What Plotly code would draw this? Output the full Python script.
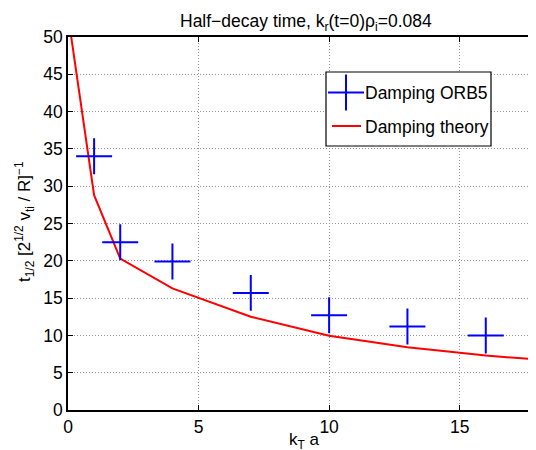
import plotly.graph_objects as go

# ORB5 damping (blue crosses)
orb5_k = [1, 2, 4, 7, 10, 13, 16]
orb5_t = [34.0, 22.5, 19.9, 15.7, 12.7, 11.2, 10.0]

# Theory (red line)
theory_k = [0, 1, 2, 4, 7, 10, 13, 16, 19]
theory_t = [53.0, 28.8, 20.3, 16.3, 12.5, 9.95, 8.4, 7.3, 6.5]

x_ticks = [0, 5, 10, 15]
y_ticks = [0, 5, 10, 15, 20, 25, 30, 35, 40, 45, 50]

FONT = "Liberation Sans, Arial, Helvetica, sans-serif"
BLUE = "#0000FF"
RED = "#FF0000"

fig = go.Figure()
fig.add_trace(go.Scatter(
    x=theory_k, y=theory_t, mode="lines",
    line=dict(color=RED, width=2), name="Damping theory", showlegend=False))
fig.add_trace(go.Scatter(
    x=orb5_k, y=orb5_t, mode="markers",
    marker=dict(symbol="cross-thin", size=25.7, line=dict(color=BLUE, width=2), color=BLUE),
    name="Damping ORB5", showlegend=False))

OFF = 8  # page body margin
W, H = 536, 450
L, T = 60, 29
R = W - 530
B = H - 402
pw, ph = W - L - R, H - T - B


def px(xs):
    return (xs - OFF - L) / pw


def py(ys):
    return (H - B - (ys - OFF)) / ph


shapes = [
    dict(type="rect", xref="paper", yref="paper", x0=px(326), x1=px(491), y0=py(146), y1=py(72),
         line=dict(color="black", width=1.2), fillcolor="white", layer="above"),
    # cross symbol
    dict(type="line", xref="paper", yref="paper", x0=px(328), x1=px(364), y0=py(92.5), y1=py(92.5),
         line=dict(color=BLUE, width=2), layer="above"),
    dict(type="line", xref="paper", yref="paper", x0=px(346), x1=px(346), y0=py(74.5), y1=py(110.5),
         line=dict(color=BLUE, width=2), layer="above"),
    # red line symbol
    dict(type="line", xref="paper", yref="paper", x0=px(332), x1=px(361), y0=py(126), y1=py(126),
         line=dict(color=RED, width=2), layer="above"),
]

annotations = [
    dict(text="Damping ORB5", xref="paper", yref="paper", x=px(363), y=py(93),
         xanchor="left", yanchor="middle", showarrow=False, font=dict(size=17.5, color="black", family=FONT)),
    dict(text="Damping theory", xref="paper", yref="paper", x=px(363), y=py(127),
         xanchor="left", yanchor="middle", showarrow=False, font=dict(size=17.5, color="black", family=FONT)),
    # axis titles
    dict(text="k<sub>T</sub> a", xref="paper", yref="paper", x=px(304), y=py(428),
         xanchor="center", yanchor="top", showarrow=False, font=dict(size=17, color="black", family=FONT)),
    dict(text="t<sub>1/2</sub> [2<sup>1/2</sup> v<sub>ti</sub> / R]<sup>\u22121</sup>",
         xref="paper", yref="paper", x=px(24), y=py(222), textangle=-90,
         xanchor="center", yanchor="middle", showarrow=False, font=dict(size=17, color="black", family=FONT)),
    # title
    dict(text="Half\u2212decay time, k<sub>r</sub>(t=0)\u03c1<sub>i</sub>=0.084",
         xref="paper", yref="paper", x=px(306), y=py(9), xanchor="center", yanchor="top",
         showarrow=False, font=dict(size=17.5, color="black", family=FONT)),
]

fig.update_layout(
    width=W, height=H,
    margin=dict(l=L, r=R, t=T, b=B, autoexpand=False),
    paper_bgcolor="white", plot_bgcolor="white",
    font=dict(family=FONT, size=17, color="black"),
    shapes=shapes,
    annotations=annotations,
    showlegend=False,
)

fig.update_xaxes(
    range=[0, 18], tickvals=x_ticks, ticktext=[str(v) for v in x_ticks],
    showline=True, linecolor="black", linewidth=1.5, mirror="ticks",
    ticks="inside", ticklen=5, tickcolor="black", tickwidth=1,
    showgrid=True, gridcolor="rgb(150,150,150)", griddash="1px,2px", gridwidth=1,
    zeroline=False, automargin=False,
    tickfont=dict(size=17.5, family=FONT),
)
fig.update_yaxes(
    range=[0, 50], tickvals=y_ticks, ticktext=[str(v) for v in y_ticks],
    showline=True, linecolor="black", linewidth=1.5, mirror=False,
    ticks="inside", ticklen=5, tickcolor="black", tickwidth=1,
    showgrid=True, gridcolor="rgb(150,150,150)", griddash="1px,2px", gridwidth=1,
    zeroline=False, automargin=False,
    tickfont=dict(size=17.5, family=FONT),
)

fig.write_html("out.html")
